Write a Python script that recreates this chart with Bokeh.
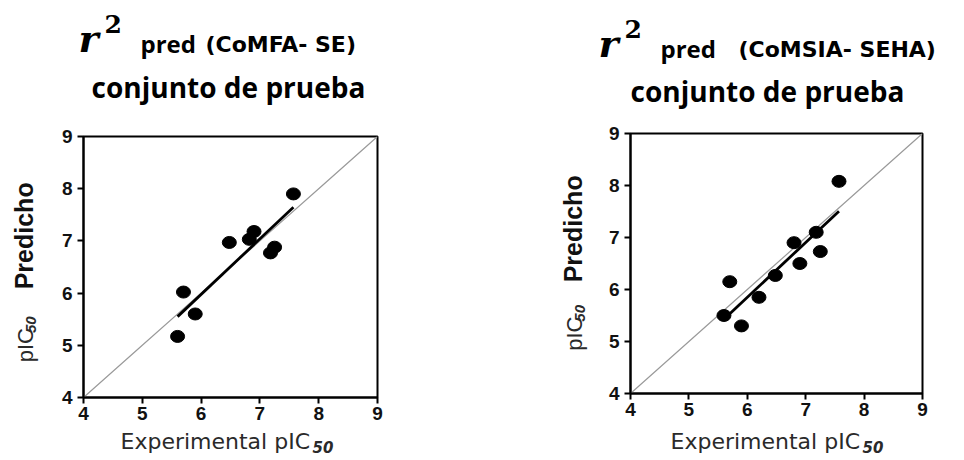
import numpy as np
from bokeh.plotting import figure
from bokeh.models import Range1d, FixedTicker
from bokeh.layouts import row, column
from bokeh.core.properties import value
from bokeh.embed import file_html
from bokeh.resources import INLINE

# ---- data ----
ticks = [4, 5, 6, 7, 8, 9]
exp_comfa = [5.60, 5.70, 5.90, 6.48, 6.82, 6.90, 7.18, 7.25, 7.57]
pred_comfa = [5.17, 6.02, 5.60, 6.97, 7.03, 7.18, 6.77, 6.88, 7.90]
exp_comsia = [5.60, 5.70, 5.90, 6.20, 6.48, 6.80, 6.90, 7.18, 7.25, 7.57]
pred_comsia = [5.50, 6.15, 5.30, 5.85, 6.27, 6.90, 6.50, 7.10, 6.73, 8.08]
title_left = "(CoMFA- SE)"
title_right = "(CoMSIA- SEHA)"
subtitle = "conjunto de prueba"
x_title = "Experimental pIC"
y_title_a = "pIC"
y_title_b = "Predicho"
sub50 = "50"

SHIFT = 0.37  # baseline correction (fraction of font size)


def text_fig(w, h):
    f = figure(width=w, height=h, min_border=0, x_range=Range1d(0, w),
               y_range=Range1d(0, h), x_axis_type=None, y_axis_type=None,
               title=None, output_backend="svg", toolbar_location=None)
    f.grid.visible = False
    f.outline_line_color = None
    return f


def put(f, txt, x, y, font, size, style="normal", rotated=False,
        align="left", color="black"):
    if rotated:
        x = x - SHIFT * size
        angle = np.pi / 2
    else:
        y = y + SHIFT * size
        angle = 0.0
    f.text(x=[x], y=[y], text=[txt], text_font=value(font),
           text_font_size=f"{size}px", text_font_style=style, angle=angle,
           text_align=align, text_baseline="alphabetic", text_color=color)


def plot_fig(xs, ys, bl, br, bt, bb, fw, fh):
    p = figure(frame_width=fw, frame_height=fh, min_border_left=bl,
               min_border_right=br, min_border_top=bt, min_border_bottom=bb,
               x_range=Range1d(4, 9), y_range=Range1d(4, 9), title=None,
               output_backend="svg", toolbar_location=None)
    p.grid.visible = False
    p.outline_line_color = "black"
    p.outline_line_width = 2
    for ax in (p.xaxis[0], p.yaxis[0]):
        ax.ticker = FixedTicker(ticks=ticks)
        ax.axis_line_color = "black"
        ax.axis_line_width = 2
        ax.major_tick_line_color = "black"
        ax.major_tick_line_width = 2
        ax.major_tick_out = 6
        ax.major_tick_in = 0
        ax.minor_tick_line_color = None
        ax.major_label_text_font = "Liberation Sans"
        ax.major_label_text_font_style = "bold"
        ax.major_label_text_font_size = "19px"
        ax.major_label_text_color = "#111111"
    p.xaxis.major_label_standoff = 3
    p.yaxis.major_label_standoff = 5
    # identity line
    p.line(ticks, ticks, line_color="#9a9a9a", line_width=1.2)
    # least-squares regression line
    k, b = np.polyfit(xs, ys, 1)
    rx = np.array([min(xs), max(xs)])
    p.line(rx, k * rx + b, line_color="black", line_width=2.8)
    p.ellipse(xs, ys, width=14, height=12, width_units="screen",
              height_units="screen", fill_color="black", line_color="black")
    return p


def title_block(f, model_txt, rx, ry, ty, px, mx, cx, cy):
    put(f, "r", rx, ry, "DejaVu Serif", 38, "bold italic")
    put(f, "2", rx + 26, ty, "DejaVu Serif", 25, "bold")
    put(f, "pred", px, ry, "Open Sans", 24, "bold")
    put(f, model_txt, mx, ry, "DejaVu Sans", 22, "bold")
    put(f, subtitle, cx, cy, "Open Sans", 28, "bold", align="center")


def ytitle_block(f, x, y_pic, y_pred):
    put(f, y_title_a, x, y_pic, "Liberation Sans", 22, rotated=True,
        color="#2a2a2a")
    put(f, sub50, x + 3, y_pic + 34, "Liberation Sans", 15, "bold italic",
        rotated=True, color="#2a2a2a")
    put(f, y_title_b, x, y_pred, "Liberation Sans", 25, "bold", rotated=True,
        color="#111111")


def xtitle_block(f, x, y):
    put(f, x_title, x, y, "DejaVu Sans", 22, color="#2a2a2a")
    put(f, sub50, x + 192, y - 3, "DejaVu Sans", 15, "bold italic",
        color="#2a2a2a")


TOP_H, MID_H, BOT_H = 124, 304, 30

# ---- left panel (width 548) ----
t1 = text_fig(548, TOP_H)
title_block(t1, title_left, 78, 72, 91, 140, 205, 228, 27)
y1 = text_fig(53, MID_H)
ytitle_block(y1, 33, 41, 126)
p1 = plot_fig(exp_comfa, pred_comfa, 30, 171, 12, 31, 294, 261)
x1 = text_fig(548, BOT_H)
xtitle_block(x1, 120, 9)
left = column(t1, row(y1, p1), x1)

# ---- right panel (width 412) ----
t2 = text_fig(412, TOP_H)
title_block(t2, title_right, 50, 67, 86, 112, 190, 219, 23)
y2 = text_fig(45, MID_H)
ytitle_block(y2, 34, 50, 130)
p2 = plot_fig(exp_comsia, pred_comsia, 37, 38, 9, 35, 292, 260)
x2 = text_fig(412, BOT_H)
xtitle_block(x2, 122, 9)
right = column(t2, row(y2, p2), x2)

layout = row(left, right)
open("out.html", "w").write(file_html(layout, INLINE))
